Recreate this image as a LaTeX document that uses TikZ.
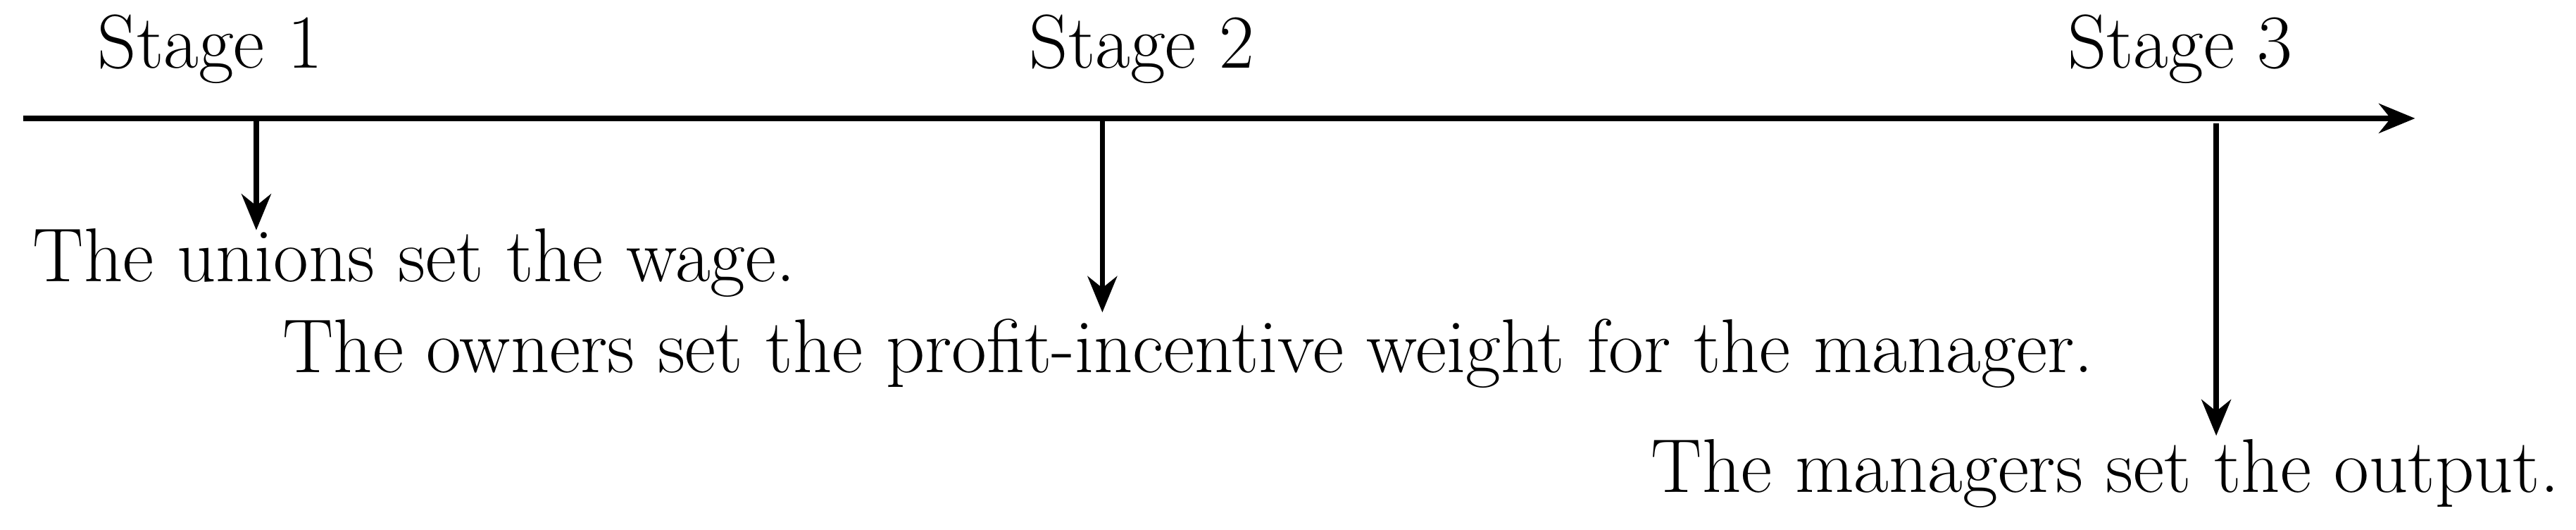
\documentclass[tikz,border=0pt]{standalone}
\usetikzlibrary{arrows.meta}
\begin{document}
\begin{tikzpicture}[
  lab/.style={font=\fontsize{66}{70}\selectfont, inner sep=0pt},
  arr/.style={line width=4.5pt, -{Stealth[length=1.1cm,width=0.9cm]}}]
\useasboundingbox (0,0) rectangle (78.4,16.1);
\coordinate (L0) at (0.7,12.5);
\coordinate (L1) at (73.5,12.5);
\draw[arr] (L0) -- (L1);
\node[lab] (s1) at (6.4,14.6) {Stage 1};
\node[lab] (s2) at (34.75,14.6) {Stage 2};
\node[lab] (s3) at (66.35,14.6) {Stage 3};
\coordinate (a1) at (7.8,12.5);
\coordinate (a2) at (33.55,12.5);
\coordinate (a3) at (67.45,12.35);
\node[lab, anchor=west] (t1) at (1.0,8.1) {The unions set the wage.};
\node[lab, anchor=west] (t2) at (8.6,5.35) {The owners set the profit-incentive weight for the manager.};
\node[lab, anchor=west] (t3) at (50.25,1.7) {The managers set the output.};
\coordinate (b1) at (7.8,9.1);
\coordinate (b2) at (33.55,6.6);
\coordinate (b3) at (67.45,2.85);
\draw[arr] (a1) -- (b1);
\draw[arr] (a2) -- (b2);
\draw[arr] (a3) -- (b3);
\end{tikzpicture}
\end{document}
